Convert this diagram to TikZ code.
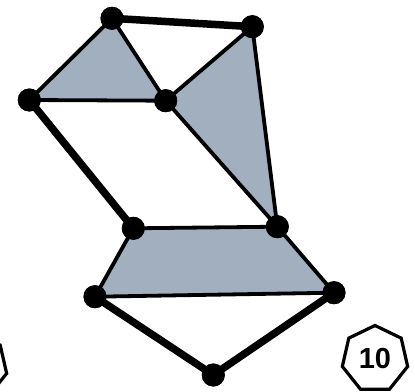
\documentclass[tikz,border=0pt]{standalone}
\usepackage{fontspec}
\setmainfont{Liberation Sans}
\usetikzlibrary{shapes.geometric}
\definecolor{shade}{RGB}{161,175,191}
\tikzset{
  vert/.style={circle,fill=black,inner sep=0pt,minimum size=23pt},
  thinedge/.style={line width=3.8pt,line cap=round},
  thickedge/.style={line width=7.5pt,line cap=round},
  face/.style={fill=shade},
  hept/.style={regular polygon,regular polygon sides=7,draw=black,line width=3.2pt,minimum size=67pt,inner sep=0pt}
}
\begin{document}
\begin{tikzpicture}[x=1pt,y=-1pt]
\useasboundingbox (0,0) rectangle (415,391);
\coordinate (pA) at (112,18.3);
\coordinate (pB) at (252.3,26.7);
\coordinate (pC) at (29.3,100);
\coordinate (pD) at (165.7,100.7);
\coordinate (pE) at (133.3,228.3);
\coordinate (pF) at (277.3,226.7);
\coordinate (pG) at (95,296.7);
\coordinate (pH) at (334,292.7);
\coordinate (pI) at (213.3,375);
\fill[face] (pA) -- (pC) -- (pD) -- cycle;
\fill[face] (pB) -- (pD) -- (pF) -- cycle;
\fill[face] (pE) -- (pF) -- (pH) -- (pG) -- cycle;
\node[vert] (A) at (pA) {};
\node[vert] (B) at (pB) {};
\node[vert] (C) at (pC) {};
\node[vert] (D) at (pD) {};
\node[vert] (E) at (pE) {};
\node[vert] (F) at (pF) {};
\node[vert] (G) at (pG) {};
\node[vert] (H) at (pH) {};
\node[vert] (I) at (pI) {};
\draw[thickedge] (A.center) -- (B.center);
\draw[thinedge] (A.center) -- (C.center);
\draw[thinedge] (A.center) -- (D.center);
\draw[thinedge] (C.center) -- (D.center);
\draw[thinedge] (D.center) -- (B.center);
\draw[thinedge] (B.center) -- (F.center);
\draw[thinedge] (D.center) -- (F.center);
\draw[thickedge] (C.center) -- (E.center);
\draw[thinedge] (E.center) -- (F.center);
\draw[thinedge] (E.center) -- (G.center);
\draw[thinedge] (F.center) -- (H.center);
\draw[thinedge] (G.center) -- (H.center);
\draw[thickedge] (G.center) -- (I.center);
\draw[thickedge] (I.center) -- (H.center);
\foreach \n in {A,B,C,D,E,F,G,H,I} \node[vert] at (\n) {};
\node[hept] (L10) at (375,359) {};
\node[font=\fontsize{29}{29}\selectfont\bfseries] (T10) at (L10.center) {10};
\node[hept] (Lprev) at (-26,366) {};
\end{tikzpicture}
\end{document}
